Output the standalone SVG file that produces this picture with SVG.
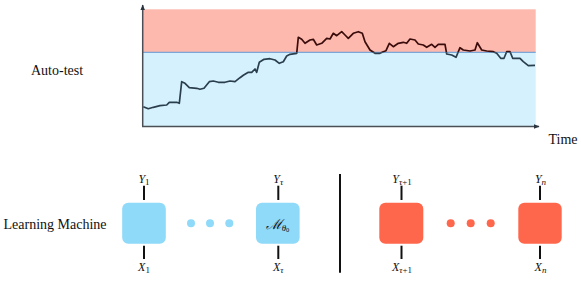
<svg xmlns="http://www.w3.org/2000/svg" width="581" height="281" viewBox="0 0 581 281">
<style>
.lbl{font-family:"Liberation Serif","Times New Roman",serif;font-size:14px;fill:#111}
.var{font-family:"Liberation Serif","Times New Roman",serif;font-size:12px;font-style:italic;fill:#111}
.sub{font-size:9px}
.up{font-style:normal}
.tick{stroke:#111;stroke-width:2}
.bbox{fill:#8fd9f9}
.rbox{fill:#ff674d}
.axis{stroke:#4a4f55;stroke-width:1.5;fill:none}
</style>
<defs>
<marker id="ah" viewBox="0 0 10 10" refX="9" refY="5" markerWidth="6" markerHeight="6" orient="auto" markerUnits="userSpaceOnUse">
<path d="M0,1 L10,5 L0,9 Z" fill="#2b3540"/>
</marker>
<clipPath id="above"><rect x="140" y="0" width="400" height="52.3"/></clipPath>
<clipPath id="below"><rect x="140" y="52.3" width="400" height="80"/></clipPath>
<path id="curve" d="M143.3,106.7 L148.3,108.7 L153.3,107.3 L160,105.7 L166.7,105 L169.3,102.3 L176.7,102.3 L179.3,103.3 L181.7,81.7 L185,83.3 L189.3,87.7 L196.7,88.3 L200,89.3 L204,88.3 L209.3,81.7 L213.3,81 L218.3,82.3 L225,82.3 L230,81 L235,81.7 L240,77.7 L243.3,75.3 L248.3,72.3 L251.7,72.3 L255,69 L256.7,72.3 L259.3,62.3 L264,59.3 L270,58.7 L275,60 L279.3,63.3 L283.3,61.7 L286.7,56 L290,54.3 L296.7,53.3 L298.3,37.3 L301.7,39.3 L305,43.3 L310,40 L313.3,39.3 L316.7,45 L321.7,43.3 L326.7,38.3 L330,39 L333.3,33.3 L336.7,35.7 L341.7,31.7 L345,35 L348.3,38.3 L353.3,33.3 L358.3,31.7 L362.3,33.3 L365,41.7 L370,50 L375,53.3 L380,53.3 L383.3,51.7 L386,50.7 L389.3,43.3 L393.3,46.7 L398.3,43.3 L403.3,42.3 L406.7,43.3 L410,39 L415,40 L418.3,44 L423.3,45 L426.7,47.3 L431.7,44.3 L435,47.3 L438.3,44.3 L445,44.3 L446.7,54 L451.7,55 L456,57.3 L460,47.7 L463.3,50 L470,51 L475,50 L477.3,42.7 L481.7,50 L486.7,51 L493.3,51.7 L496.7,53.3 L500.7,58.3 L504,58.3 L506.7,51.7 L510,51.7 L512.7,58.3 L520,58.3 L523.3,61.7 L528.3,65.7 L535,65.3"/>
</defs>
<g id="chart">
<rect x="142.7" y="9.3" width="393" height="43" fill="#fdb9ad"/>
<rect x="142.7" y="52.3" width="393" height="74" fill="#d5f1fd"/>
<line x1="142.7" y1="52.3" x2="535.7" y2="52.3" stroke="#7ba7d6" stroke-width="1.3"/>
<use href="#curve" fill="none" stroke="#3a0c0c" stroke-width="1.7" stroke-linejoin="round" clip-path="url(#above)"/>
<use href="#curve" fill="none" stroke="#2b3e4e" stroke-width="1.7" stroke-linejoin="round" clip-path="url(#below)"/>
<line class="axis" x1="142.7" y1="126.5" x2="142.7" y2="5" marker-end="url(#ah)"/>
<line class="axis" x1="142" y1="126.5" x2="539" y2="126.5" marker-end="url(#ah)"/>
<text class="lbl" x="548.5" y="144">Time</text>
<text class="lbl" x="31" y="75">Auto-test</text>
</g>
<text class="lbl" x="3.5" y="228.5">Learning Machine</text>
<line x1="340" y1="174" x2="340" y2="272.7" stroke="#111" stroke-width="2"/>
<g id="connectors">
<line class="tick" x1="144" y1="185.7" x2="144" y2="200"/>
<line class="tick" x1="144" y1="245.7" x2="144" y2="259"/>
<line class="tick" x1="278.3" y1="185.7" x2="278.3" y2="200"/>
<line class="tick" x1="278.3" y1="245.7" x2="278.3" y2="259"/>
<line class="tick" x1="401.5" y1="185.7" x2="401.5" y2="200"/>
<line class="tick" x1="401.5" y1="245.7" x2="401.5" y2="259"/>
<line class="tick" x1="540" y1="185.7" x2="540" y2="200"/>
<line class="tick" x1="540" y1="245.7" x2="540" y2="259"/>
</g>
<g id="m1">
<rect class="bbox" x="122.2" y="202.7" width="43.6" height="41" rx="6"/>
<text class="var" x="144" y="182.5" text-anchor="middle">Y<tspan class="sub up" dy="2.5">1</tspan></text>
<text class="var" x="144" y="270.5" text-anchor="middle">X<tspan class="sub up" dy="2.5">1</tspan></text>
</g>
<g id="dots-blue" fill="#8fd9f9">
<circle cx="191" cy="223.3" r="4"/>
<circle cx="210" cy="223.3" r="4"/>
<circle cx="229.3" cy="223.3" r="4"/>
</g>
<g id="m-tau">
<rect class="bbox" x="256" y="202.7" width="43.6" height="41" rx="6"/>
<text class="var" x="278.3" y="182.5" text-anchor="middle">Y<tspan class="sub" dy="2.5">τ</tspan></text>
<text class="var" x="278.3" y="270.5" text-anchor="middle">X<tspan class="sub" dy="2.5">τ</tspan></text>
<text class="var" x="277.5" y="228.5" text-anchor="middle" style="font-size:14px">ℳ<tspan class="sub" dy="2">θ</tspan><tspan class="up" style="font-size:6.5px" dy="1.5">0</tspan></text>
</g>
<g id="m-tau1">
<rect class="rbox" x="379.3" y="202.7" width="44" height="41" rx="6"/>
<text class="var" x="402" y="182.5" text-anchor="middle">Y<tspan class="sub" dy="2.5">τ</tspan><tspan class="sub up">+1</tspan></text>
<text class="var" x="402" y="270.5" text-anchor="middle">X<tspan class="sub" dy="2.5">τ</tspan><tspan class="sub up">+1</tspan></text>
</g>
<g id="dots-red" fill="#ff674d">
<circle cx="450.7" cy="223.3" r="4"/>
<circle cx="470.7" cy="223.3" r="4"/>
<circle cx="490.7" cy="223.3" r="4"/>
</g>
<g id="m-n">
<rect class="rbox" x="518.3" y="202.7" width="43.4" height="41" rx="6"/>
<text class="var" x="540.5" y="182.5" text-anchor="middle">Y<tspan class="sub" dy="2.5">n</tspan></text>
<text class="var" x="540.5" y="270.5" text-anchor="middle">X<tspan class="sub" dy="2.5">n</tspan></text>
</g>
</svg>
